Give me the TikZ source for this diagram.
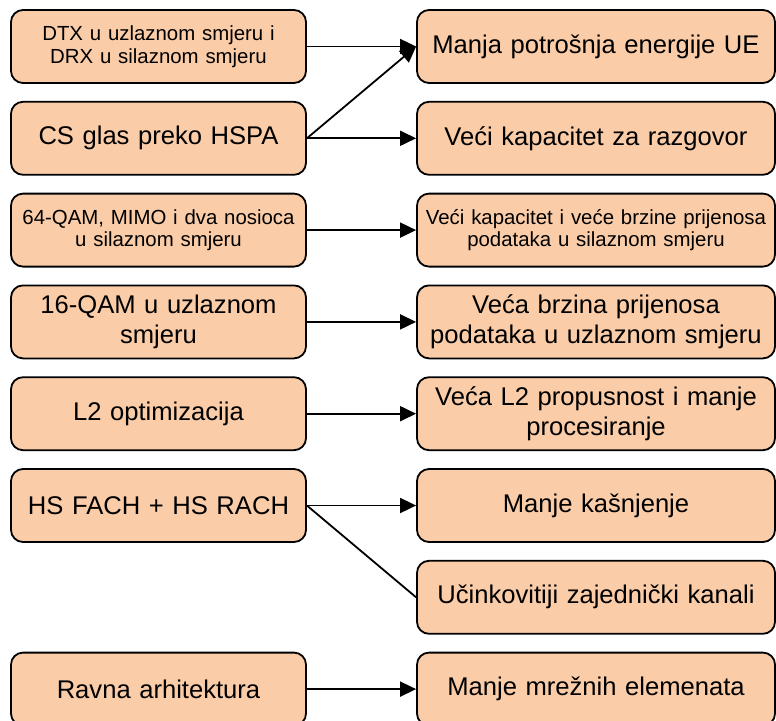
\documentclass[tikz,border=0pt]{standalone}
\usepackage{fontspec}
\setmainfont{Liberation Sans}
\usetikzlibrary{arrows.meta}
\definecolor{peach}{RGB}{250,204,168}
\begin{document}
\begin{tikzpicture}[x=1pt,y=-1pt,
  box/.style={draw=black, line width=1.8pt, fill=peach, rounded corners=12pt,
    minimum height=73pt, inner sep=2pt, align=center, text=black},
  lbox/.style={box, minimum width=295pt, text width=289pt},
  rbox/.style={box, minimum width=358pt, text width=354pt},
  big/.style={font=\fontsize{25.6}{30}\selectfont},
  small/.style={font=\fontsize{20.4}{22.5}\selectfont},
  conn/.style={line width=1.8pt, draw=black},
  arr/.style={conn, -{Triangle[length=16pt,width=15pt]}}]
\path[use as bounding box, clip] (0,0) rectangle (776,720);
% left column
\node[lbox, small] (l1) at (158.5, 46.5) {DTX u uzlaznom smjeru i\\DRX u silaznom smjeru};
\node[lbox, big]   (l2) at (158.5, 138.3) {CS glas preko HSPA};
\node[lbox, small] (l3) at (158.5, 230.1) {64-QAM, MIMO i dva nosioca\\u silaznom smjeru};
\node[lbox, big]   (l4) at (158.5, 321.9) {16-QAM u uzlaznom\\smjeru};
\node[lbox, big]   (l5) at (158.5, 413.7) {L2 optimizacija};
\node[lbox, big]   (l6) at (158.5, 505.5) {HS FACH + HS RACH};
\node[lbox, big]   (l8) at (158.5, 689.1) {Ravna arhitektura};
% right column
\node[rbox, big]   (r1) at (596, 46.5) {Manja potrošnja energije UE};
\node[rbox, big]   (r2) at (596, 138.3) {Veći kapacitet za razgovor};
\node[rbox, small] (r3) at (596, 230.1) {Veći kapacitet i veće brzine prijenosa\\podataka u silaznom smjeru};
\node[rbox, big]   (r4) at (596, 321.9) {Veća brzina prijenosa\\podataka u uzlaznom smjeru};
\node[rbox, big]   (r5) at (596, 413.7) {Veća L2 propusnost i manje\\procesiranje};
\node[rbox, big]   (r6) at (596, 505.5) {Manje kašnjenje};
\node[rbox, big]   (r7) at (596, 597.3) {Učinkovitiji zajednički kanali};
\node[rbox, big]   (r8) at (596, 689.1) {Manje mrežnih elemenata};
% connectors
\draw[arr] (l1.east) -- (r1.west);
\draw[arr] (l2.east) -- (r1.west);
\draw[arr] (l2.east) -- (r2.west);
\draw[arr] (l3.east) -- (r3.west);
\draw[arr] (l4.east) -- (r4.west);
\draw[arr] (l5.east) -- (r5.west);
\draw[arr] (l6.east) -- (r6.west);
\draw[conn] (l6.east) -- (r7.west);
\draw[arr] (l8.east) -- (r8.west);
\end{tikzpicture}
\end{document}
